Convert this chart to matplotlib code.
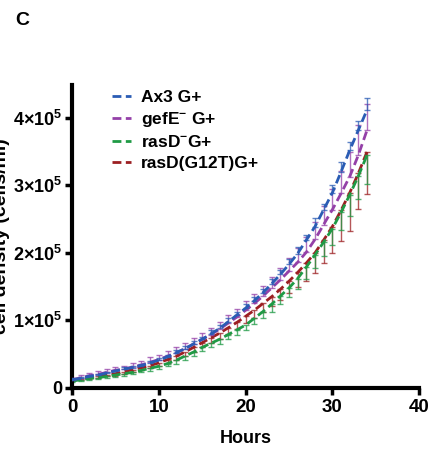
import numpy as np
import matplotlib
matplotlib.use("Agg")
import matplotlib.pyplot as plt

plt.rcParams['font.family'] = ['Liberation Sans', 'DejaVu Sans']
plt.rcParams['font.weight'] = 'bold'
plt.rcParams['mathtext.fontset'] = 'custom'
plt.rcParams['mathtext.rm'] = 'Liberation Sans:bold'
plt.rcParams['mathtext.bf'] = 'Liberation Sans:bold'

# hours 0..34, densities in units of 1e5 cells/ml
hours = list(range(35))
ax3 = [0.12, 0.14, 0.17, 0.19, 0.22, 0.25, 0.28, 0.30, 0.33, 0.37, 0.41, 0.46, 0.52, 0.58,
       0.65, 0.72, 0.80, 0.88, 0.98, 1.08, 1.18, 1.29, 1.41, 1.54, 1.68, 1.83, 1.99, 2.19,
       2.39, 2.64, 2.89, 3.20, 3.52, 3.82, 4.12]
ax3_err = [0.02, 0.02, 0.02, 0.02, 0.02, 0.02, 0.03, 0.03, 0.03, 0.03, 0.03, 0.03, 0.04, 0.04,
           0.04, 0.04, 0.05, 0.05, 0.05, 0.05, 0.06, 0.06, 0.06, 0.07, 0.07, 0.08, 0.09, 0.08,
           0.13, 0.09, 0.12, 0.15, 0.12, 0.14, 0.17]
gefe = [0.12, 0.15, 0.18, 0.20, 0.23, 0.26, 0.28, 0.31, 0.34, 0.38, 0.42, 0.47, 0.52, 0.58,
        0.65, 0.72, 0.79, 0.87, 0.96, 1.05, 1.15, 1.25, 1.36, 1.48, 1.60, 1.73, 1.86, 2.01,
        2.20, 2.42, 2.64, 2.88, 3.13, 3.45, 3.82]
gefe_err = [0.03, 0.04, 0.04, 0.05, 0.05, 0.05, 0.05, 0.06, 0.06, 0.07, 0.07, 0.08, 0.08, 0.09,
            0.09, 0.10, 0.10, 0.11, 0.12, 0.12, 0.13, 0.14, 0.15, 0.16, 0.17, 0.19, 0.21, 0.23,
            0.26, 0.28, 0.31, 0.33, 0.36, 0.45, 0.38]
rasd = [0.10, 0.12, 0.14, 0.15, 0.17, 0.19, 0.21, 0.23, 0.26, 0.29, 0.32, 0.36, 0.41, 0.47,
        0.53, 0.60, 0.66, 0.72, 0.79, 0.86, 0.93, 1.03, 1.13, 1.24, 1.36, 1.48, 1.62, 1.79,
        1.97, 2.16, 2.36, 2.60, 2.86, 3.14, 3.45]
rasd_err = [0.01, 0.02, 0.02, 0.02, 0.02, 0.03, 0.03, 0.03, 0.03, 0.04, 0.04, 0.04, 0.05, 0.05,
            0.06, 0.06, 0.06, 0.07, 0.07, 0.08, 0.08, 0.09, 0.10, 0.11, 0.12, 0.13, 0.15, 0.17,
            0.19, 0.21, 0.24, 0.26, 0.31, 0.34, 0.43]
g12t = [0.11, 0.13, 0.15, 0.17, 0.19, 0.21, 0.24, 0.27, 0.30, 0.33, 0.37, 0.42, 0.47, 0.53,
        0.60, 0.67, 0.74, 0.81, 0.89, 0.97, 1.06, 1.15, 1.25, 1.35, 1.46, 1.58, 1.71, 1.85,
        2.00, 2.19, 2.39, 2.63, 2.89, 3.18, 3.50]
g12t_err = [0.01, 0.02, 0.02, 0.02, 0.02, 0.03, 0.03, 0.03, 0.04, 0.04, 0.05, 0.05, 0.06, 0.06,
            0.07, 0.07, 0.08, 0.08, 0.09, 0.10, 0.10, 0.11, 0.12, 0.14, 0.16, 0.18, 0.22, 0.26,
            0.30, 0.34, 0.39, 0.45, 0.56, 0.53, 0.63]

labels = ['Ax3 G+', r'gefE$^{-}$ G+', r'rasD$^{-}$G+', 'rasD(G12T)G+']
colors = ['#2a5cb4', '#9440a8', '#1f9a45', '#9c1f22']

fig = plt.figure(figsize=(4.29, 4.51), dpi=100)
ax = fig.add_axes([0.168, 0.14, 0.809, 0.672])

scale = 1e5
series = [(ax3, ax3_err, 'up'), (gefe, gefe_err, 'up'),
          (rasd, rasd_err, 'down'), (g12t, g12t_err, 'down')]
z = [4, 3, 2, 1]
for (vals, err, side), lab, c, zo in zip(series, labels, colors, z):
    v = np.array(vals) * scale
    e = np.array(err) * scale
    yerr = [np.zeros_like(e), e] if side == 'up' else [e, np.zeros_like(e)]
    ax.errorbar(hours, v, yerr=yerr, fmt='none', ecolor=c, elinewidth=1,
                capsize=2.5, capthick=1, alpha=0.75, zorder=zo)
    ax.plot(hours, v, color=c, lw=2, ls=(0, (3.2, 1.6)), label=lab, zorder=zo + 0.5)

ax.set_xlim(0, 40)
ax.set_ylim(0, 4.49e5)
ax.set_xticks([0, 10, 20, 30, 40])
ax.set_yticks([0, 1e5, 2e5, 3e5, 4e5])
ax.set_yticklabels(['0', r'$1{\times}10^{5}$', r'$2{\times}10^{5}$',
                    r'$3{\times}10^{5}$', r'$4{\times}10^{5}$'], fontsize=13)
ax.tick_params(axis='x', labelsize=13.5, width=2.5, length=5, pad=3)
ax.tick_params(axis='y', width=2.5, length=5, pad=2)
for lab in ax.get_xticklabels() + ax.get_yticklabels():
    lab.set_fontweight('bold')
for s in ['top', 'right']:
    ax.spines[s].set_visible(False)
for s in ['left', 'bottom']:
    ax.spines[s].set_linewidth(3)
ax.spines['left'].set_bounds(0, 4.49e5)

ax.set_xlabel('Hours', fontsize=13, fontweight='bold', labelpad=10)
fig.text(0.004, 0.476, 'cell density (cells/ml)', rotation=90, fontsize=14,
         fontweight='bold', ha='center', va='center')

ax.legend(loc='upper left', bbox_to_anchor=(0.094, 1.006), frameon=False,
          handlelength=1.1, handletextpad=0.6, labelspacing=0.3, borderaxespad=0,
          prop={'weight': 'bold', 'size': 12.5})

fig.text(0.035, 0.955, 'C', fontsize=14, fontweight='bold', ha='left', va='center')

fig.savefig('out.png', dpi=100)
